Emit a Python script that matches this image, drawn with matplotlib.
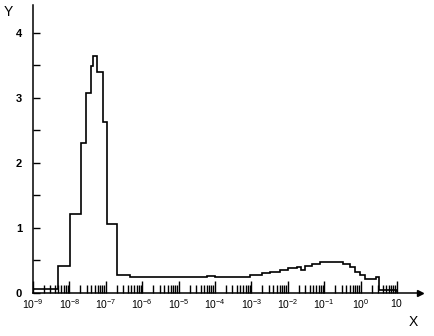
import numpy as np
import matplotlib.pyplot as plt
from matplotlib.ticker import FixedLocator, NullFormatter

# bin edges as log10(x)
log_edges = [-9.0, -8.31, -7.98, -7.68, -7.54, -7.41, -7.35, -7.24, -7.08,
             -6.97, -6.69, -6.34, -4.22, -4.0, -3.04, -2.71, -2.49, -2.21,
             -2.0, -1.75, -1.64, -1.53, -1.34, -1.12, -0.84, -0.48, -0.29,
             -0.15, -0.02, 0.12, 0.31, 0.42, 0.5, 1.0]
values = [0.06, 0.42, 1.22, 2.31, 3.08, 3.49, 3.65, 3.40, 2.63,
          1.06, 0.28, 0.245, 0.26, 0.24, 0.27, 0.30, 0.33, 0.35,
          0.39, 0.40, 0.36, 0.42, 0.45, 0.47, 0.48, 0.45, 0.40,
          0.33, 0.27, 0.22, 0.21, 0.25, 0.05]

decades = list(range(-9, 2))
x_labels = [r"$10^{%d}$" % d for d in decades[:-1]] + [r"$10^{\ }$"]
y_ticks = [0, 1, 2, 3, 4]
y_minor = [0.5, 1.5, 2.5, 3.5]

plt.rcParams["font.family"] = ["Liberation Sans", "DejaVu Sans"]
plt.rcParams["mathtext.fontset"] = "custom"
plt.rcParams["mathtext.rm"] = "Liberation Sans"
plt.rcParams["mathtext.it"] = "Liberation Sans"

fig = plt.figure(figsize=(4.35, 3.36), dpi=100)
ax = fig.add_axes([33 / 435, 43 / 336, 387 / 435, 288 / 336])

edges = 10.0 ** np.array(log_edges)
ax.stairs(values, edges, color="black", linewidth=1.2)

ax.set_xscale("log")
ax.set_xlim(1e-9, 10 ** 1.632)
ax.set_ylim(0, 4.43)

ax.xaxis.set_major_locator(FixedLocator([10.0 ** d for d in decades]))
ax.set_xticklabels(x_labels)
minor = [m * 10.0 ** d for d in decades[:-1] for m in range(2, 10)]
ax.xaxis.set_minor_locator(FixedLocator(minor))
ax.xaxis.set_minor_formatter(NullFormatter())

ax.set_yticks(y_ticks)
ax.set_yticks(y_minor, minor=True)

ax.tick_params(axis="x", which="major", direction="in", length=9, width=1,
               labelsize=7.5, pad=3)
ax.tick_params(axis="x", which="minor", direction="in", length=6, width=1)
ax.tick_params(axis="y", which="both", direction="in", length=5, width=1,
               labelsize=8, pad=8)
for lbl in ax.get_yticklabels():
    lbl.set_fontweight("bold")

for s in ["top", "right"]:
    ax.spines[s].set_visible(False)
for s in ["left", "bottom"]:
    ax.spines[s].set_linewidth(1.1)

# arrow heads on the axes
ax.plot(1, 0, ">k", transform=ax.get_yaxis_transform(), clip_on=False, markersize=4)
ax.plot(0, 1, "^k", transform=ax.get_xaxis_transform(), clip_on=False, markersize=4)

fig.text(8 / 435, 1 - 12 / 336, "Y", fontsize=10, ha="center", va="center")
fig.text(413 / 435, 1 - 322 / 336, "X", fontsize=10, ha="center", va="center")

fig.savefig("out.png", dpi=100)
